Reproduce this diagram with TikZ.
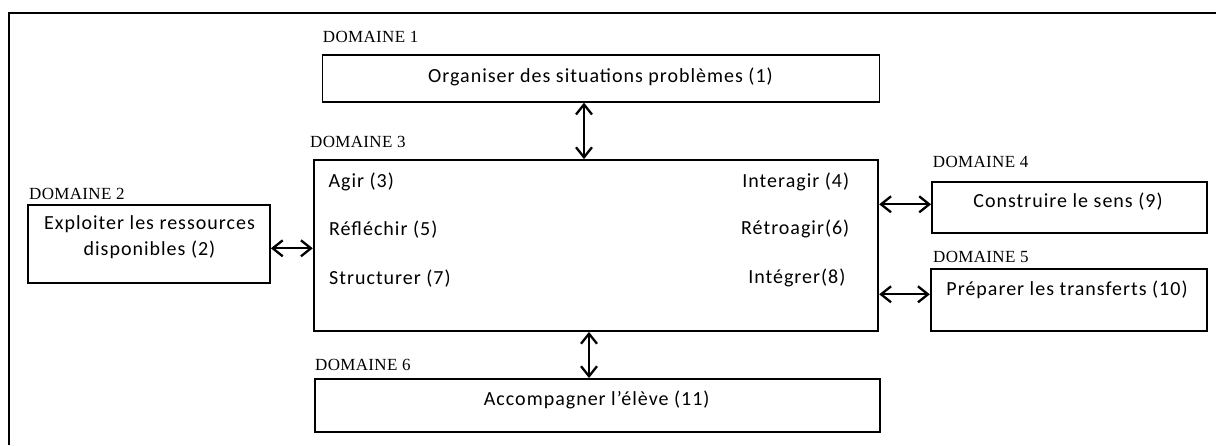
\documentclass[tikz,border=0pt]{standalone}
\usepackage{fontspec}
\setmainfont{Liberation Serif}
\newfontfamily\domfont[LetterSpace=2]{Liberation Serif}
\newfontfamily\bodyfont[LetterSpace=5]{Carlito}
\usetikzlibrary{arrows.meta}
\begin{document}
\begin{tikzpicture}[x=1pt,y=-1pt,
  box/.style={draw,line width=1.8pt,inner sep=0pt},
  domlabel/.style={font=\domfont\fontsize{17}{19}\selectfont,anchor=west,inner sep=0pt},
  txt/.style={font=\bodyfont\fontsize{20}{24}\selectfont,inner sep=0pt},
  link/.style={line width=2.3pt,{Straight Barb[length=10pt,width=16pt,line width=2.3pt]}-{Straight Barb[length=10pt,width=16pt,line width=2.3pt]}}
]
\useasboundingbox (0,0) rectangle (1216,445);
% outer frame (left and top edges)
\draw[line width=1.8pt] (9.3,445) -- (9.3,13.3) -- (1216,13.3);

% boxes
\node[box,minimum width=557pt,minimum height=46.7pt] (b1) at (601,78.4) {};
\node[box,minimum width=564.6pt,minimum height=171pt] (b3) at (596,245.5) {};
\node[box,minimum width=242pt,minimum height=77.7pt] (b2) at (149,243.9) {};
\node[box,minimum width=274.7pt,minimum height=51pt] (b4) at (1069.3,207.2) {};
\node[box,minimum width=276pt,minimum height=61.7pt] (b5) at (1068.7,299.8) {};
\node[box,minimum width=565pt,minimum height=52.7pt] (b6) at (597.5,405.3) {};

% domain labels
\node[domlabel] (d1) at (322.7,36.7) {DOMAINE 1};
\node[domlabel] (d2) at (29,194) {DOMAINE 2};
\node[domlabel] (d3) at (310,141.7) {DOMAINE 3};
\node[domlabel] (d4) at (932.7,161.7) {DOMAINE 4};
\node[domlabel] (d5) at (933,257.3) {DOMAINE 5};
\node[domlabel] (d6) at (315,365) {DOMAINE 6};

% box texts
\node[txt] (t1) at (600.5,77) {Organiser des situations problèmes (1)};
\node[txt,align=center] (t2) at (149.5,237) {Exploiter les ressources\\[2pt]disponibles (2)};
\node[txt] (t9) at (1068,201.7) {Construire le sens (9)};
\node[txt] (t10) at (1067,290) {Préparer les transferts (10)};
\node[txt] (t11) at (596.7,400) {Accompagner l’élève (11)};

% texts inside domain 3
\node[txt,anchor=west] (a3) at (328.3,181.5) {Agir (3)};
\node[txt,anchor=west] (a5) at (329,229.3) {Réfléchir (5)};
\node[txt,anchor=west] (a7) at (329,278.3) {Structurer (7)};
\node[txt,anchor=east] (a4) at (849.3,181.7) {Interagir (4)};
\node[txt,anchor=east] (a6) at (849.5,229) {Rétroagir(6)};
\node[txt,anchor=east] (a8) at (845.6,278) {Intégrer(8)};

% connectors
\draw[link] (b1.south -| 584,0) -- (b3.north -| 584,0);
\draw[link] (b2.east |- 0,248.3) -- (b3.west |- 0,248.3);
\draw[link] (b3.east |- 0,204.3) -- (b4.west |- 0,204.3);
\draw[link] (b3.east |- 0,294.3) -- (b5.west |- 0,294.3);
\draw[link] (b3.south -| 589,0) -- (b6.north -| 589,0);
\end{tikzpicture}
\end{document}
